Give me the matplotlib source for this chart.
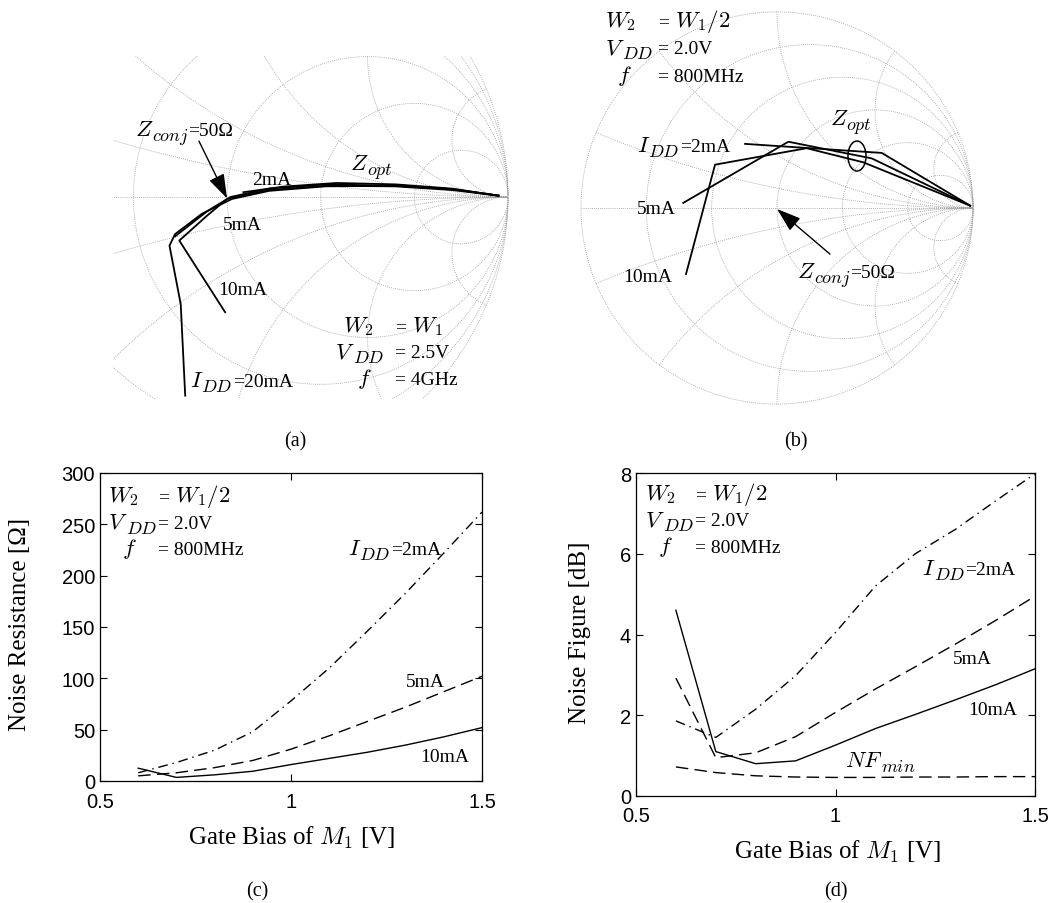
import numpy as np
import matplotlib.pyplot as plt
from matplotlib.patches import Ellipse
from matplotlib.transforms import offset_copy

plt.rcParams['font.family'] = 'Liberation Serif'
plt.rcParams['mathtext.fontset'] = 'cm'

# gate bias sweep used in (c) and (d)
vg = [0.6, 0.7, 0.8, 0.9, 1.0, 1.1, 1.2, 1.3, 1.4, 1.5]

# (c) noise resistance [ohm]
rn_2ma = [8, 18, 30, 48, 78, 110, 146, 183, 222, 262]
rn_5ma = [5, 8, 13, 20, 31, 44, 58, 72, 87, 102]
rn_10ma = [12.5, 3.5, 6, 9.5, 16, 22, 28, 35, 43, 52]

# (d) noise figure [dB]
nf_2ma = [1.86, 1.45, 2.15, 2.98, 4.05, 5.2, 6.0, 6.6, 7.3, 7.98]
nf_5ma = [2.92, 0.95, 1.07, 1.47, 2.07, 2.65, 3.2, 3.76, 4.34, 4.95]
nf_10ma = [4.6, 1.1, 0.8, 0.87, 1.26, 1.67, 2.02, 2.38, 2.75, 3.15]
nf_min = [0.72, 0.58, 0.50, 0.47, 0.46, 0.46, 0.47, 0.47, 0.48, 0.48]

# (a) Zopt traces as reflection coefficient (re, im), W2=W1, 4GHz
a_2ma_re = [0.058, 0.20, 0.39, 0.60, 0.80, 0.966]
a_2ma_im = [0.017, 0.037, 0.050, 0.045, 0.030, 0.005]
a_5ma_re = [-0.185, -0.07, 0.012, 0.15, 0.35, 0.60, 0.80, 0.966]
a_5ma_im = [-0.14, -0.05, 0.0, 0.030, 0.045, 0.040, 0.028, 0.005]
a_10ma_re = [-0.007, -0.17, -0.072, 0.0, 0.15, 0.35, 0.60, 0.80, 0.966]
a_10ma_im = [-0.41, -0.155, -0.067, -0.007, 0.025, 0.040, 0.038, 0.025, 0.005]
a_20ma_re = [-0.149, -0.165, -0.205, -0.185, -0.09, 0.017, 0.15, 0.35, 0.60, 0.80, 0.966]
a_20ma_im = [-0.707, -0.381, -0.173, -0.132, -0.06, -0.007, 0.022, 0.038, 0.040, 0.028, 0.005]

# (b) Zopt traces, W2=W1/2, 800MHz
b_2ma_re = [-0.163, 0.534, 0.985]
b_2ma_im = [0.327, 0.281, 0.012]
b_5ma_re = [-0.478, 0.058, 0.483, 0.985]
b_5ma_im = [0.026, 0.338, 0.253, 0.012]
b_10ma_re = [-0.464, -0.316, 0.151, 0.44, 0.985]
b_10ma_im = [-0.337, 0.221, 0.305, 0.233, 0.012]

r_circles = [0.2, 0.5, 1, 2, 5]
x_arcs = [0.2, 0.5, 1, 2, 5]

fs_txt = 14     # roman text
fs_math = 16.5  # math italic looks bigger in the original
fs_sub = 13     # letter subscripts (LaTeX cmmi7 is wide)
grid_kw = dict(color='0.6', lw=0.6, ls=(0, (1, 1.5)))

fig = plt.figure(figsize=(10.64, 9.04), dpi=100)
renderer = fig.canvas.get_renderer()


def smith_grid(ax):
    xs = np.sinh(np.linspace(-7, 7, 2000))
    for r in r_circles:
        g = (r + 1j * xs - 1) / (r + 1j * xs + 1)
        ax.plot(g.real, g.imag, **grid_kw)
    rs = np.concatenate([[0], np.logspace(-3, 3, 1500)])
    for x in x_arcs:
        for s in (1, -1):
            g = (rs + 1j * s * x - 1) / (rs + 1j * s * x + 1)
            ax.plot(g.real, g.imag, **grid_kw)
    th = np.linspace(0, 2 * np.pi, 600)
    ax.plot(np.cos(th), np.sin(th), **grid_kw)
    ax.plot([-1, 1], [0, 0], **grid_kw)
    ax.axis('off')


def mixed(ax, x, y, parts):
    # chain text chunks on one baseline; a tuple is a lowered subscript chunk
    for p in parts:
        if isinstance(p, tuple):
            s, size, dy, dx = p
        else:
            s, dy, dx = p, 0, 0
            size = fs_math if s.startswith('$') else fs_txt
        tr = offset_copy(ax.transData, fig=fig, x=dx, y=-dy, units='dots')
        t = ax.text(x, y, s, fontsize=size, va='baseline', transform=tr)
        bb = t.get_window_extent(renderer)
        x = ax.transData.inverted().transform((bb.x1, 0))[0]


def params(ax, x0, y0, x1, dy, rows):
    for k, (lhs, rhs, dx) in enumerate(rows):
        mixed(ax, x0 + dx, y0 - k * dy, lhs)
        mixed(ax, x1, y0 - k * dy, rhs)


def sub(s):
    return (s, fs_sub, 5, -2)


IDD = [r'$I$', sub(r'$DD$')]
VDD = [r'$V$', sub(r'$DD$')]
ZCONJ = [r'$Z$', sub(r'$conj$')]
ZOPT = [r'$Z$', sub(r'$opt$')]

arrow_kw = dict(arrowstyle='-|>,head_length=0.75,head_width=0.25',
                color='k', lw=1.0, mutation_scale=20, shrinkA=0, shrinkB=0)

# ---------------- (a) ----------------
ax_a = fig.add_axes([113 / 1064, 1 - 400 / 904, 397 / 1064, 343 / 904])
smith_grid(ax_a)
ax_a.set_xlim(-0.406, 1.007)
ax_a.set_ylim(-0.719, 0.502)
for re, im in [(a_2ma_re, a_2ma_im), (a_5ma_re, a_5ma_im),
               (a_10ma_re, a_10ma_im), (a_20ma_re, a_20ma_im)]:
    ax_a.plot(re, im, color='k', lw=1.3)
ax_a.annotate('', xy=(0, -0.005), xytext=(-0.100, 0.199), arrowprops=arrow_kw)
mixed(ax_a, -0.327, 0.221, ZCONJ + ['=50Ω'])
mixed(ax_a, 0.089, 0.046, ['2mA'])
mixed(ax_a, 0.438, 0.10, ZOPT)
mixed(ax_a, -0.014, -0.114, ['5mA'])
mixed(ax_a, -0.032, -0.345, ['10mA'])
mixed(ax_a, -0.132, -0.673, IDD + ['=20mA'])
params(ax_a, 0.384, -0.477, 0.598, 0.094,
       [([r'$W_2$'], ['=', r'$\ W_1$'], 0.029), (VDD, ['= 2.5V'], 0.0),
        ([r'$f$'], ['= 4GHz'], 0.079)])

# ---------------- (b) ----------------
ax_b = fig.add_axes([577 / 1064, 1 - 409 / 904, 400 / 1064, 400 / 904])
smith_grid(ax_b)
ax_b.set_xlim(-1.02, 1.02)
ax_b.set_ylim(-1.02, 1.02)
for re, im in [(b_2ma_re, b_2ma_im), (b_5ma_re, b_5ma_im), (b_10ma_re, b_10ma_im)]:
    ax_b.plot(re, im, color='k', lw=1.3)
ax_b.add_patch(Ellipse((0.408, 0.265), 0.092, 0.153, fill=False, color='k', lw=1.1))
ax_b.annotate('', xy=(0, -0.005), xytext=(0.270, -0.235), arrowprops=arrow_kw)
mixed(ax_b, 0.270, 0.429, ZOPT)
mixed(ax_b, -0.714, 0.291, IDD + ['=2mA'])
mixed(ax_b, -0.714, -0.026, ['5mA'])
mixed(ax_b, -0.786, -0.372, ['10mA'])
mixed(ax_b, 0.102, -0.352, ZCONJ + ['=50Ω'])
params(ax_b, -0.878, 0.929, -0.607, 0.140,
       [([r'$W_2$'], ['=', r'$\ W_1/2$'], 0.0), (VDD, ['= 2.0V'], 0.0),
        ([r'$f$'], ['= 800MHz'], 0.062)])


def style_axes(ax, xpad):
    ax.set_xlim(0.5, 1.5)
    ax.set_xticks([0.5, 1, 1.5])
    ax.set_xticklabels(['0.5', '1', '1.5'])
    ax.tick_params(direction='in', top=True, right=True, length=5, width=0.8,
                   labelsize=14.5, labelfontfamily='Liberation Sans')
    ax.tick_params(axis='x', pad=xpad)
    ax.tick_params(axis='y', pad=3.5)
    for s in ax.spines.values():
        s.set_linewidth(0.9)


dash = (0, (9, 4.5))
dashdot = (0, (7, 3.5, 1, 3.5))

# ---------------- (c) ----------------
ax_c = fig.add_axes([100 / 1064, 1 - 782 / 904, 382 / 1064, 308 / 904])
ax_c.plot(vg, rn_2ma, color='k', lw=1.0, ls=dashdot)
ax_c.plot(vg, rn_5ma, color='k', lw=1.0, ls=dash)
ax_c.plot(vg, rn_10ma, color='k', lw=1.0)
style_axes(ax_c, 8)
ax_c.set_ylim(0, 300)
ax_c.set_yticks(range(0, 301, 50))
ax_c.set_xlabel(r'Gate Bias of $M_1$ [V]', fontsize=18)
ax_c.set_ylabel('Noise Resistance [Ω]', fontsize=18)
ax_c.xaxis.set_label_coords(0.5, -0.14)
ax_c.yaxis.set_label_coords(-0.18, 0.513)
params(ax_c, 0.521, 272.7, 0.652, 25.8,
       [([r'$W_2$'], ['=', r'$\ W_1/2$'], 0.0), (VDD, ['= 2.0V'], 0.0),
        ([r'$f$'], ['= 800MHz'], 0.037)])
mixed(ax_c, 1.149, 221.1, IDD + ['=2mA'])
mixed(ax_c, 1.301, 92.5, ['5mA'])
mixed(ax_c, 1.338, 19.5, ['10mA'])

# ---------------- (d) ----------------
ax_d = fig.add_axes([636 / 1064, 1 - 797 / 904, 399 / 1064, 323 / 904])
ax_d.plot(vg, nf_2ma, color='k', lw=1.0, ls=dashdot)
ax_d.plot(vg, nf_5ma, color='k', lw=1.0, ls=dash)
ax_d.plot(vg, nf_10ma, color='k', lw=1.0)
ax_d.plot(vg, nf_min, color='k', lw=1.0, ls=dash)
style_axes(ax_d, 7)
ax_d.set_ylim(0, 8)
ax_d.set_yticks(range(0, 9, 2))
ax_d.set_xlabel(r'Gate Bias of $M_1$ [V]', fontsize=18)
ax_d.set_ylabel('Noise Figure [dB]', fontsize=18)
ax_d.xaxis.set_label_coords(0.506, -0.13)
ax_d.yaxis.set_label_coords(-0.113, 0.51)
params(ax_d, 0.523, 7.36, 0.648, 0.655,
       [([r'$W_2$'], ['=', r'$\ W_1/2$'], 0.0), (VDD, ['= 2.0V'], 0.0),
        ([r'$f$'], ['= 800MHz'], 0.032)])
mixed(ax_d, 1.217, 5.50, IDD + ['=2mA'])
mixed(ax_d, 1.294, 3.29, ['5mA'])
mixed(ax_d, 1.332, 2.03, ['10mA'])
mixed(ax_d, 1.024, 0.75, [r'$NF$', sub(r'$min$')])

# captions
for lab, px, py in [('(a)', 295, 442), ('(b)', 796, 442), ('(c)', 257, 892), ('(d)', 836, 892)]:
    fig.text(px / 1064, 1 - py / 904, lab, fontsize=14.5, ha='center', va='center')

fig.savefig('out.png', dpi=100)
